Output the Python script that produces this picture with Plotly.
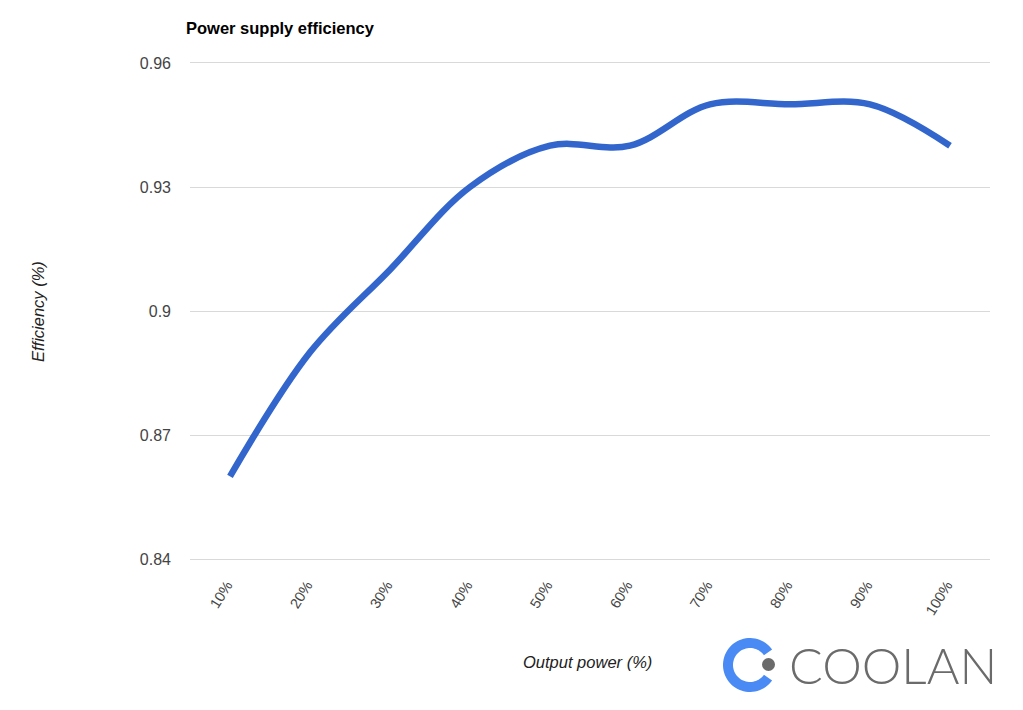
import numpy as np
import plotly.graph_objects as go

categories = ["10%", "20%", "30%", "40%", "50%", "60%", "70%", "80%", "90%", "100%"]
efficiency = [0.86, 0.89, 0.91, 0.93, 0.94, 0.94, 0.95, 0.95, 0.95, 0.94]
y_ticks = [0.84, 0.87, 0.9, 0.93, 0.96]
y_tick_labels = ["0.84", "0.87", "0.9", "0.93", "0.96"]

OFF = 8  # page body margin
W, H = 1023 - OFF, 710 - OFF
L, R, T, B = 190, 990, 63, 559  # plot area in screenshot pixels

def px(x):
    return (x - L) / (R - L)

def py(y):
    return (B - y) / (B - T)

fig = go.Figure()
fig.add_trace(go.Scatter(
    x=categories, y=efficiency, mode="lines",
    line=dict(color="#3366cc", width=6.5, shape="spline", smoothing=1.0),
    hoverinfo="x+y", showlegend=False,
))

# logo ring (annulus with gap on the right)
cx, cy, ro, ri = 750, 665, 27, 17
a = np.linspace(np.radians(35), np.radians(325), 60)
outer = [(cx + ro * np.cos(t), cy - ro * np.sin(t)) for t in a]
inner = [(cx + ri * np.cos(t), cy - ri * np.sin(t)) for t in a[::-1]]
pts = outer + inner
path = "M " + " L ".join(f"{px(x):.5f},{py(y):.5f}" for x, y in pts) + " Z"

shapes = [
    dict(type="path", xref="paper", yref="paper", path=path,
         fillcolor="#4a8af4", line=dict(width=0)),
    dict(type="circle", xref="paper", yref="paper",
         x0=px(762), x1=px(775), y0=py(671), y1=py(658),
         fillcolor="#6b6b6b", line=dict(width=0)),
]

GRID = "#d9d9d9"

fig.update_layout(
    width=W, height=H,
    margin=dict(l=L - OFF, r=W - (R - OFF), t=T - OFF, b=H - (B - OFF)),
    paper_bgcolor="white", plot_bgcolor="white",
    font=dict(family="Liberation Sans, Arial, sans-serif", color="#444444", size=13),
    title=dict(text="<b>Power supply efficiency</b>", x=(186 - OFF) / W, xref="container",
               xanchor="left", y=1 - (28 - OFF) / H, yref="container", yanchor="middle",
               font=dict(size=16.5, color="#000000")),
    shapes=shapes,
    annotations=[
        dict(text="<i>Efficiency (%)</i>", xref="paper", yref="paper",
             x=px(38), y=py(312), textangle=-90, showarrow=False,
             font=dict(size=16.5, color="#222222"), xanchor="center", yanchor="middle"),
        dict(text="<i>Output power (%)</i>", xref="paper", yref="paper",
             x=px(587), y=py(662), showarrow=False,
             font=dict(size=16.5, color="#222222"), xanchor="center", yanchor="middle"),
        dict(text="COOLAN", xref="paper", yref="paper",
             x=px(787), y=py(665), showarrow=False, xanchor="left", yanchor="middle",
             font=dict(size=50, color="#6b6b6b", family="Lato, Liberation Sans, Arial", weight=300)),
    ],
    xaxis=dict(type="category", showgrid=False, zeroline=False,
               showline=True, mirror=True, linecolor=GRID, linewidth=1,
               tickangle=-58, ticks="", ticklabelstandoff=11, ticklabelshift=-3,
               tickfont=dict(size=14.5, color="#444444"),
               range=[-0.5, len(categories) - 0.5], fixedrange=True),
    yaxis=dict(range=[0.84, 0.96], tickvals=y_ticks, ticktext=y_tick_labels,
               showgrid=True, gridcolor=GRID, gridwidth=1, zeroline=False,
               showline=False, ticks="", ticklabelstandoff=18,
               tickfont=dict(size=16, color="#444444"), fixedrange=True),
)

fig.write_html("out.html")
